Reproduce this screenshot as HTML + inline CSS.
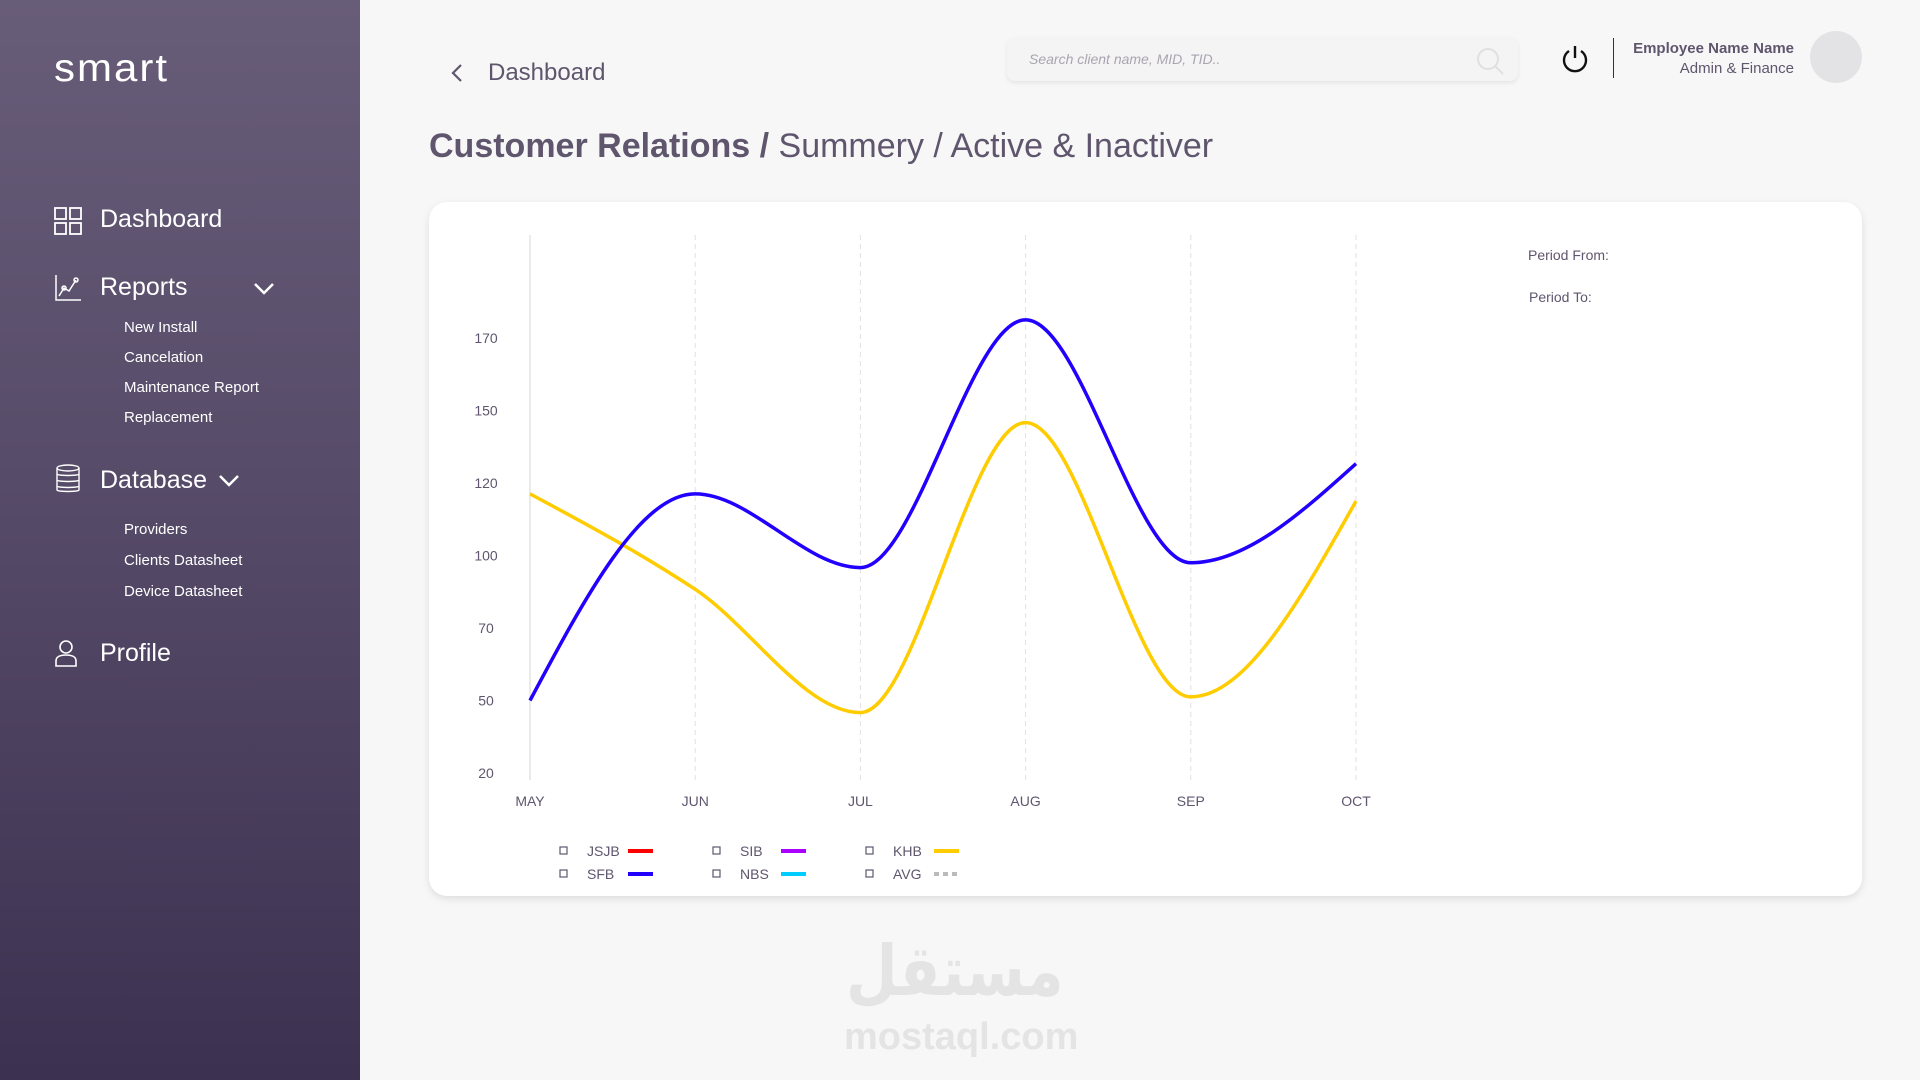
<!DOCTYPE html>
<html><head><meta charset="utf-8">
<style>
*{margin:0;padding:0;box-sizing:border-box}
body{width:1920px;height:1080px;overflow:hidden;background:#f7f7f7;font-family:"Liberation Sans",sans-serif;position:relative;color:#5f566e}
#sidebar{position:absolute;left:0;top:0;width:360px;height:1080px;background:linear-gradient(180deg,#685d79 0%,#564b68 45%,#3c3150 100%)}
.abs{position:absolute;white-space:nowrap}
.nav{color:#fff;font-size:25px}
.sub{color:#fff;font-size:15px}
.muted{color:#5f566e}
</style></head><body>
<div id="sidebar">
  <div class="abs" style="left:54px;top:44px;color:#fff;font-size:42px;letter-spacing:2px;font-weight:300;transform:scaleY(0.92)">smart</div>
  <svg class="abs" style="left:54px;top:207px" width="28" height="28" viewBox="0 0 28 28" fill="none" stroke="#fff" stroke-width="1.8"><rect x="1" y="1" width="11" height="11"/><rect x="16" y="1" width="11" height="11"/><rect x="1" y="16" width="11" height="11"/><rect x="16" y="16" width="11" height="11"/></svg>
  <div class="abs nav" style="left:100px;top:205px">Dashboard</div>
  <svg class="abs" style="left:54px;top:274px" width="28" height="28" viewBox="0 0 28 28" fill="none" stroke="#fff" stroke-width="1.5"><path d="M2 1V26H27"/><path d="M5 22L10 14L15 17L22 6"/><circle cx="10" cy="14" r="2"/><circle cx="22" cy="6" r="2"/></svg>
  <div class="abs nav" style="left:100px;top:273px">Reports</div>
  <svg class="abs" style="left:253px;top:282px" width="22" height="14" viewBox="0 0 22 14" fill="none" stroke="#fff" stroke-width="2.5"><path d="M2 2L11 11L20 2"/></svg>
  <div class="abs sub" style="left:124px;top:319px">New Install</div>
  <div class="abs sub" style="left:124px;top:349px">Cancelation</div>
  <div class="abs sub" style="left:124px;top:379px">Maintenance Report</div>
  <div class="abs sub" style="left:124px;top:409px">Replacement</div>
  <svg class="abs" style="left:55px;top:464px" width="26" height="30" viewBox="0 0 26 30" fill="none" stroke="#fff" stroke-width="1.4"><ellipse cx="13" cy="4" rx="11" ry="3"/><path d="M2 4V26C2 28 24 28 24 26V4"/><path d="M2 10C2 12 24 12 24 10M2 16C2 18 24 18 24 16M2 22C2 24 24 24 24 22"/></svg>
  <div class="abs nav" style="left:100px;top:466px">Database</div>
  <svg class="abs" style="left:218px;top:474px" width="22" height="14" viewBox="0 0 22 14" fill="none" stroke="#fff" stroke-width="2.5"><path d="M2 2L11 11L20 2"/></svg>
  <div class="abs sub" style="left:124px;top:521px">Providers</div>
  <div class="abs sub" style="left:124px;top:552px">Clients Datasheet</div>
  <div class="abs sub" style="left:124px;top:583px">Device Datasheet</div>
  <svg class="abs" style="left:54px;top:639px" width="24" height="28" viewBox="0 0 24 28" fill="none" stroke="#fff" stroke-width="1.6"><circle cx="12" cy="8" r="6"/><path d="M2 27V22C2 18 6 16 12 16C18 16 22 18 22 22V27Z"/></svg>
  <div class="abs nav" style="left:100px;top:639px">Profile</div>
</div>

<svg class="abs" style="left:450px;top:63px" width="14" height="20" viewBox="0 0 14 20" fill="none" stroke="#5f566e" stroke-width="2.2"><path d="M11 2L3 10L11 18"/></svg>
<div class="abs muted" style="left:488px;top:59px;font-size:24px">Dashboard</div>

<div class="abs" style="left:1007px;top:37px;width:511px;height:44px;background:#f4f4f4;border-radius:8px;box-shadow:0 2px 4px rgba(0,0,0,0.08)">
  <div class="abs" style="left:22px;top:14px;font-size:14px;font-style:italic;color:#a9a4b0">Search client name, MID, TID..</div>
  <svg class="abs" style="left:468px;top:9px" width="30" height="30" viewBox="0 0 30 30" fill="none" stroke="#e0e0e0" stroke-width="2"><circle cx="13" cy="13" r="10"/><path d="M20 20L28 28"/></svg>
</div>
<svg class="abs" style="left:1561px;top:44px" width="28" height="30" viewBox="0 0 28 30" fill="none" stroke="#111" stroke-width="2.4"><path d="M8 7A11 11 0 1 0 20 7"/><path d="M14 2V14"/></svg>
<div class="abs" style="left:1613px;top:38px;width:1px;height:40px;background:#333"></div>
<div class="abs muted" style="right:126px;top:40px;font-size:15px;font-weight:bold;color:#5f566e">Employee Name Name</div>
<div class="abs muted" style="right:126px;top:60px;font-size:15px">Admin &amp; Finance</div>
<div class="abs" style="left:1810px;top:31px;width:52px;height:52px;border-radius:50%;background:#e3e3e6"></div>

<div class="abs" style="left:429px;top:127px;font-size:34px;color:#5f566e"><b>Customer Relations /</b> Summery / Active &amp; Inactiver</div>

<div class="abs" style="left:429px;top:202px;width:1433px;height:694px;background:#fff;border-radius:18px;box-shadow:0 3px 8px rgba(0,0,0,0.1)"></div>
<div class="abs muted" style="left:1528px;top:247px;font-size:14px">Period From:</div>
<div class="abs muted" style="left:1529px;top:289px;font-size:14px">Period To:</div>

<svg id="chart" class="abs" style="left:0;top:0" width="1920" height="1080"></svg>

<div class="abs" style="left:846px;top:930px;font-size:70px;font-weight:bold;color:#e4e4e4;font-family:'DejaVu Sans',sans-serif;transform:scaleX(0.85);transform-origin:left top">مستقل</div>
<div class="abs" style="left:844px;top:1016px;font-size:38px;font-weight:bold;color:#e4e4e4">mostaql.com</div>

<script>
const categories=["MAY","JUN","JUL","AUG","SEP","OCT"];
const tickLabels=[20,50,70,100,120,150,170];
const sfbValues=[50,117,95,175,97,128];
const khbValues=[117,86,45,145,51,115];
const legendNames=["JSJB","SIB","KHB","SFB","NBS","AVG"];
const legendColors=["#ff0000","#aa00ff","#ffcc00","#2200ff","#00ccff","#bbbbbb"];

const svg=document.getElementById('chart');
const NS='http://www.w3.org/2000/svg';
const X0=530,X1=1356,YBOT=773,YTOP=338,PT=235,PB=780;
function xs(i){return X0+i*(X1-X0)/(categories.length-1);}
function ys(v){
  const step=(YBOT-YTOP)/(tickLabels.length-1);
  let i=0;
  if(v<=tickLabels[0]) i=0; else if(v>=tickLabels[tickLabels.length-1]) i=tickLabels.length-2;
  else {while(i<tickLabels.length-2 && v>tickLabels[i+1]) i++;}
  const t=(v-tickLabels[i])/(tickLabels[i+1]-tickLabels[i]);
  return YBOT-(i+t)*step;
}
function mk(tag,attrs){const e=document.createElementNS(NS,tag);for(const k in attrs)e.setAttribute(k,attrs[k]);svg.appendChild(e);return e;}

categories.forEach((c,i)=>{
  if(i>0){const g=mk('line',{x1:xs(i),x2:xs(i),y1:PT,y2:PB,stroke:'#e2e2e2','stroke-dasharray':'5,4'});
  
  }
  const t=mk('text',{x:xs(i),y:806,'text-anchor':'middle','font-size':14,fill:'#5f566e','font-family':'Liberation Sans'});
  t.textContent=c;
  
  
});
const ax=mk('line',{x1:X0,x2:X0,y1:PT,y2:PB,stroke:'#d6d6d6'});


tickLabels.forEach(v=>{
  const t=mk('text',{x:486,y:ys(v)+5,'text-anchor':'middle','font-size':14,fill:'#5f566e','font-family':'Liberation Sans'});
  t.textContent=v;
  
  
});

function monotonePath(pts){
  const n=pts.length,d=[],m=new Array(n);
  for(let i=0;i<n-1;i++)d.push((pts[i+1][1]-pts[i][1])/(pts[i+1][0]-pts[i][0]));
  for(let i=1;i<n-1;i++){
    if(d[i-1]*d[i]<=0)m[i]=0;
    else{const h0=pts[i][0]-pts[i-1][0],h1=pts[i+1][0]-pts[i][0];const p=(d[i-1]*h1+d[i]*h0)/(h0+h1);
      m[i]=(Math.sign(d[i-1])+Math.sign(d[i]))*Math.min(Math.abs(d[i-1]),Math.abs(d[i]),0.5*Math.abs(p));}
  }
  m[0]=(3*d[0]-m[1])/2; m[n-1]=(3*d[n-2]-m[n-2])/2;
  let s='M'+pts[0][0]+','+pts[0][1];
  for(let i=0;i<n-1;i++){const h=(pts[i+1][0]-pts[i][0])/3;
    s+=' C'+(pts[i][0]+h)+','+(pts[i][1]+h*m[i])+' '+(pts[i+1][0]-h)+','+(pts[i+1][1]-h*m[i+1])+' '+pts[i+1][0]+','+pts[i+1][1];}
  return s;
}
const khb=mk('path',{d:monotonePath(khbValues.map((v,i)=>[xs(i),ys(v)])),fill:'none',stroke:'#ffcc00','stroke-width':3.5});


const sfb=mk('path',{d:monotonePath(sfbValues.map((v,i)=>[xs(i),ys(v)])),fill:'none',stroke:'#2200ff','stroke-width':3.5});



legendNames.forEach((nm,k)=>{
  const col=k%3,row=Math.floor(k/3);
  const bx=560+col*153,by=847+row*23;
  const b=mk('rect',{x:bx,y:by,width:7,height:7,fill:'none',stroke:'#5f566e','stroke-width':1.2});
  
  
  const t=mk('text',{x:bx+27,y:by+9,'font-size':14,fill:'#5f566e','font-family':'Liberation Sans'});
  t.textContent=nm;
  
  
  const l=mk('line',{x1:bx+68,x2:bx+93,y1:by+4,y2:by+4,stroke:legendColors[k],'stroke-width':4});
  if(nm==='AVG')l.setAttribute('stroke-dasharray','5,4');
  
  
});
</script>
</body></html>
